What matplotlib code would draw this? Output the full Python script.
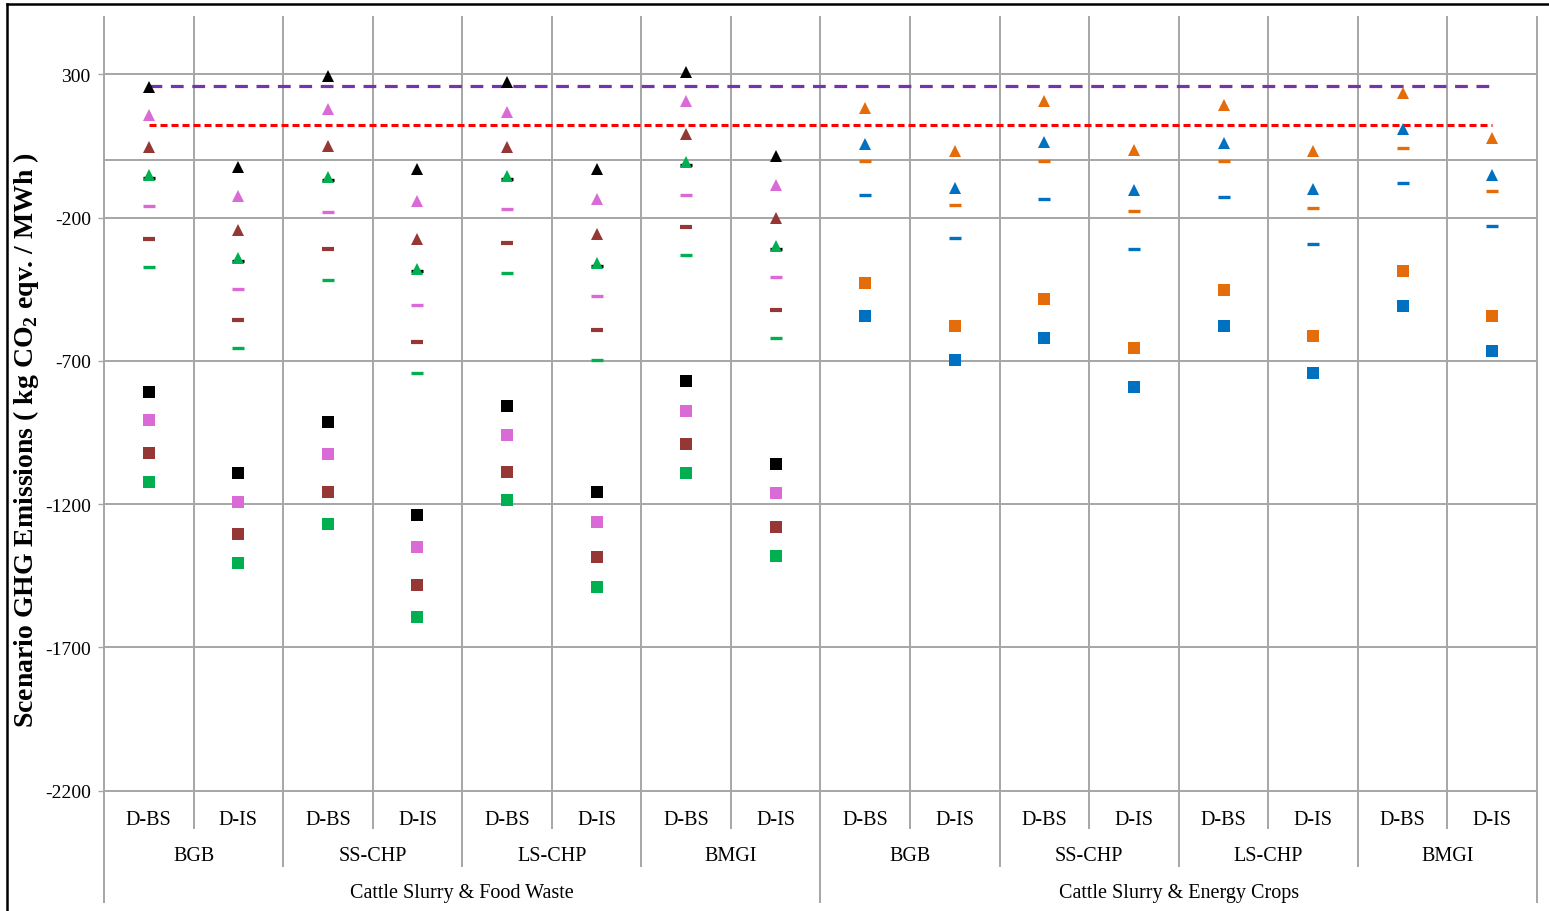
import numpy as np
import matplotlib.pyplot as plt
from matplotlib.lines import Line2D
import matplotlib.transforms as mtransforms

plt.rcParams['font.family'] = ['Liberation Serif', 'DejaVu Serif']
plt.rcParams['axes.unicode_minus'] = False

scenarios = ['D-BS', 'D-IS'] * 8
plants = ['BGB', 'SS-CHP', 'LS-CHP', 'BMGI'] * 2
feedstocks = ['Cattle Slurry & Food Waste', 'Cattle Slurry & Energy Crops']
yticks = [300, -200, -700, -1200, -1700, -2200]

# cattle slurry & food waste (8 scenario columns)
fw_black_tri = [257, -25, 295, -31, 274, -29, 309, 16]
fw_violet_tri = [158, -125, 179, -142, 170, -137, 208, -85]
fw_brown_tri = [46, -244, 51, -275, 47, -258, 90, -203]
fw_green_tri = [-52, -340, -60, -378, -54, -358, -5, -299]
fw_black_dash = [-62, -350, -70, -388, -64, -368, -15, -309]
fw_violet_dash = [-159, -448, -180, -504, -171, -474, -120, -409]
fw_brown_dash = [-275, -558, -309, -634, -288, -593, -234, -523]
fw_green_dash = [-374, -656, -417, -741, -392, -697, -332, -621]
fw_black_sq = [-808, -1092, -913, -1237, -858, -1157, -772, -1060]
fw_violet_sq = [-905, -1193, -1025, -1349, -960, -1264, -874, -1163]
fw_brown_sq = [-1021, -1304, -1157, -1481, -1087, -1385, -990, -1279]
fw_green_sq = [-1122, -1405, -1269, -1593, -1187, -1491, -1092, -1381]

# cattle slurry & energy crops (8 scenario columns)
ec_orange_tri = [181, 32, 208, 35, 193, 32, 234, 76]
ec_blue_tri = [55, -96, 65, -105, 61, -101, 108, -50]
ec_orange_dash = [-3, -155, -3, -176, -3, -165, 44, -109]
ec_blue_dash = [-120, -271, -135, -309, -130, -291, -80, -230]
ec_orange_sq = [-428, -580, -483, -656, -453, -615, -388, -545]
ec_blue_sq = [-545, -697, -621, -793, -580, -742, -509, -666]

ref_purple = 260
ref_red = 123

BLACK = '#000000'
VIOLET = '#DA6AD6'
BROWN = '#953735'
GREEN = '#00B050'
ORANGE = '#E46C0A'
BLUE = '#0070C0'
GRID = '#A6A6A6'

W, H = 1549, 912
fig = plt.figure(figsize=(W / 100, H / 100), dpi=100)
ax = fig.add_axes([104 / W, 1 - 791.5 / H, (1537 - 104) / W, (791.5 - 18) / H])
ax.set_xlim(-0.5, 15.5)
ax.set_ylim(-2200, 500)
for s in ax.spines.values():
    s.set_visible(False)

# horizontal grid + zero line
for v in yticks + [0]:
    ax.axhline(v, color=GRID, lw=1.4, zorder=0, clip_on=False)

trans = mtransforms.blended_transform_factory(ax.transData, ax.transAxes)

# column separators, longer ones bound the plant and feedstock groups
for i in range(17):
    b = i - 0.5
    if i % 8 == 0:
        depth = -0.1436
    elif i % 2 == 0:
        depth = -0.097
    else:
        depth = -0.0479
    ax.plot([b, b], [depth, 1], color=GRID, lw=1.4, transform=trans,
            clip_on=False, zorder=0)

ax.set_xticks([])
ax.set_yticks(yticks)
ax.tick_params(axis='y', length=4.5, width=1.0, color=GRID, pad=5,
               labelsize=14)

for i, s in enumerate(scenarios):
    ax.text(i, -0.0375, s, transform=trans, ha='center', va='center',
            fontsize=14.5)
for k, p in enumerate(plants):
    ax.text(2 * k + 0.5, -0.084, p, transform=trans, ha='center',
            va='center', fontsize=14.5)
for k, f in enumerate(feedstocks):
    ax.text(8 * k + 3.5, -0.1325, f, transform=trans, ha='center',
            va='center', fontsize=14.5)

# reference levels
ax.plot([0, 15], [ref_purple, ref_purple], color='#7535A8', lw=2.3,
        dashes=(4, 2.7), zorder=1)
ax.plot([0, 15], [ref_red, ref_red], color='#FF0000', lw=2.2,
        dashes=(2.3, 1.3), zorder=1)

x_fw = np.arange(8)
x_ec = np.arange(8) + 8


def pts(x, y, color, kind, thick=2.4):
    if kind == 'tri':
        ax.plot(x, y, ls='none', marker='^', ms=8.2, color=color, mew=0,
                zorder=3)
    elif kind == 'dash':
        ax.plot(x, y, ls='none', marker='_', ms=8.8, color=color, mew=thick,
                zorder=3)
    else:
        ax.plot(x, y, ls='none', marker='s', ms=8.4, color=color, mew=0,
                zorder=3)


pts(x_fw, fw_black_dash, BLACK, 'dash')
pts(x_fw, fw_black_tri, BLACK, 'tri')
pts(x_fw, fw_violet_tri, VIOLET, 'tri')
pts(x_fw, fw_brown_tri, BROWN, 'tri')
pts(x_fw, fw_green_tri, GREEN, 'tri')
pts(x_fw, fw_violet_dash, VIOLET, 'dash')
pts(x_fw, fw_brown_dash, BROWN, 'dash', thick=3.0)
pts(x_fw, fw_green_dash, GREEN, 'dash')
pts(x_fw, fw_black_sq, BLACK, 'sq')
pts(x_fw, fw_violet_sq, VIOLET, 'sq')
pts(x_fw, fw_brown_sq, BROWN, 'sq')
pts(x_fw, fw_green_sq, GREEN, 'sq')

pts(x_ec, ec_orange_tri, ORANGE, 'tri')
pts(x_ec, ec_blue_tri, BLUE, 'tri')
pts(x_ec, ec_orange_dash, ORANGE, 'dash')
pts(x_ec, ec_blue_dash, BLUE, 'dash')
pts(x_ec, ec_orange_sq, ORANGE, 'sq')
pts(x_ec, ec_blue_sq, BLUE, 'sq')

fig.text(26 / W, 1 - 440 / H,
         r'Scenario GHG Emissions ( kg CO$_\mathregular{2}$ eqv. / MWh )',
         rotation=90, ha='center', va='center', fontsize=20,
         fontweight='bold')

# outer frame on the left and top
fig.add_artist(Line2D([7.5 / W, 7.5 / W], [0, 1 - 5 / H], color='black',
                      lw=1.8, transform=fig.transFigure))
fig.add_artist(Line2D([7.5 / W, 1], [1 - 5 / H, 1 - 5 / H], color='black',
                      lw=1.8, transform=fig.transFigure))

fig.savefig('out.png', dpi=100)
